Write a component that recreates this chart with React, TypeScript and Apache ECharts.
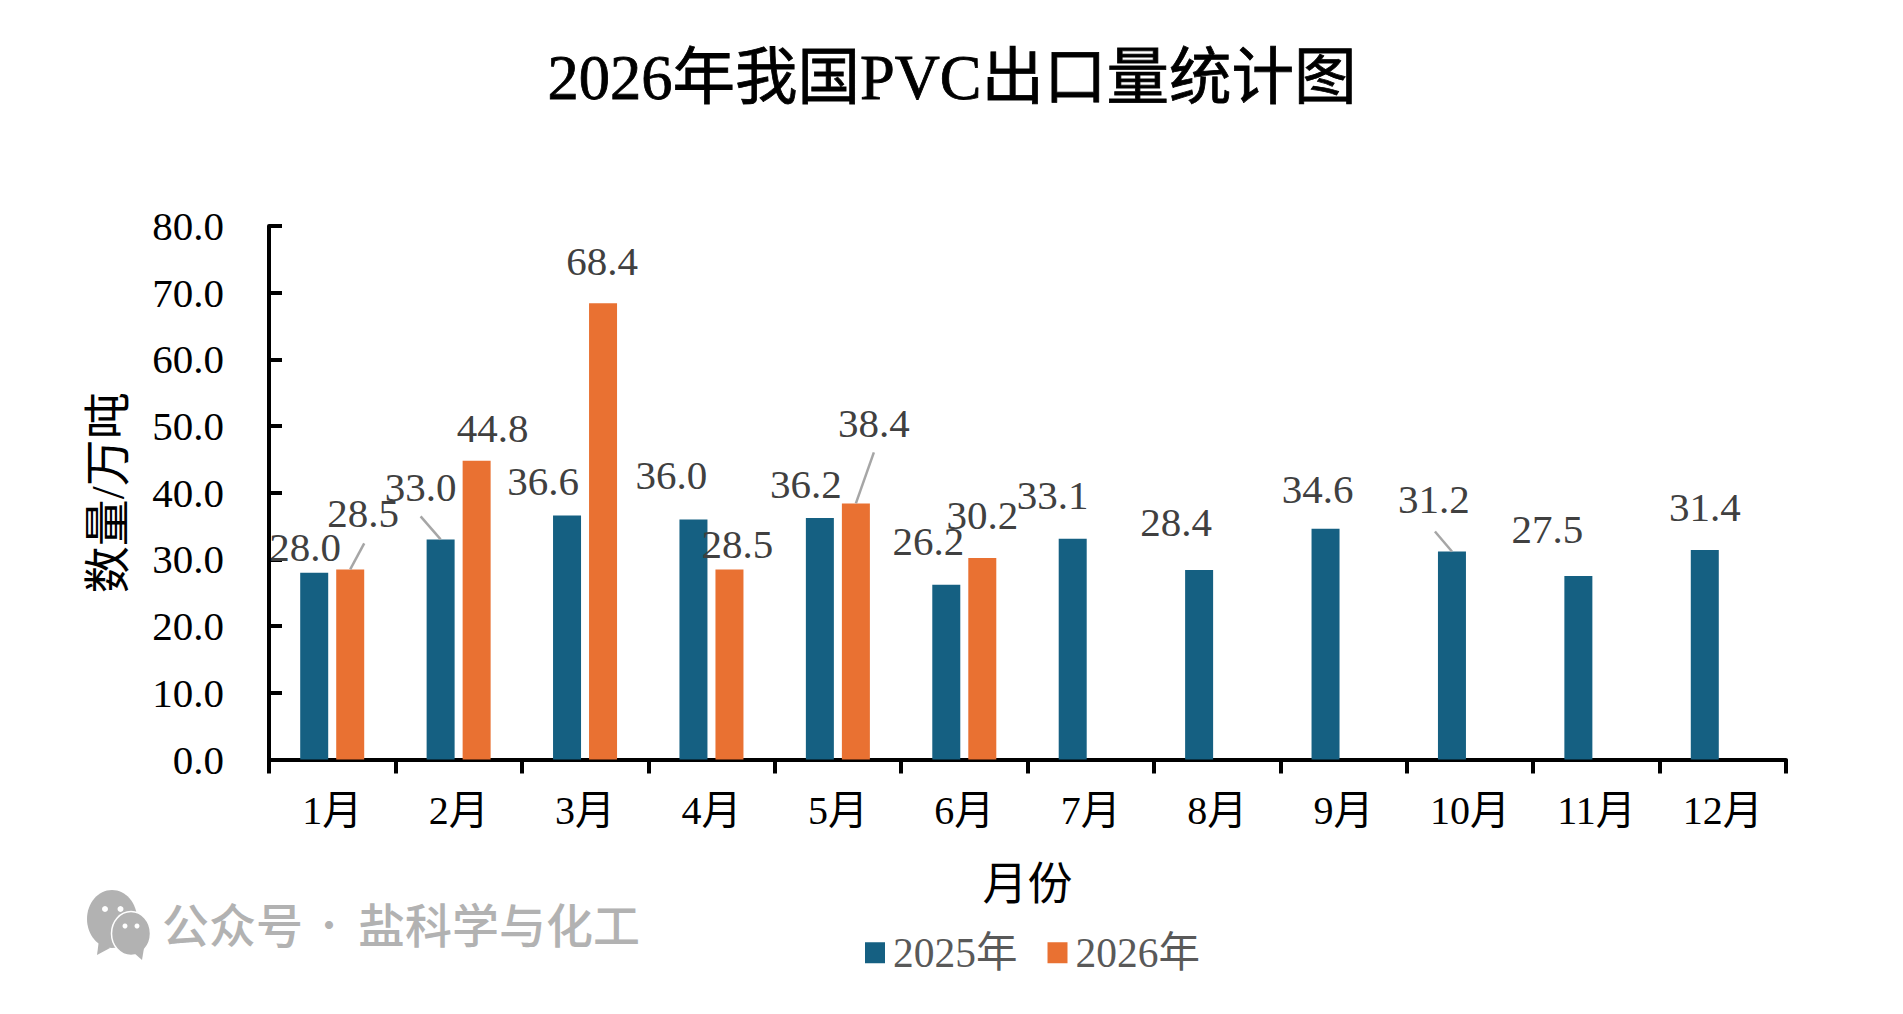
import React, { useEffect, useRef } from "react";
import * as echarts from "echarts";

const months = ["1月", "2月", "3月", "4月", "5月", "6月", "7月", "8月", "9月", "10月", "11月", "12月"];
const values2025 = [28.0, 33.0, 36.6, 36.0, 36.2, 26.2, 33.1, 28.4, 34.6, 31.2, 27.5, 31.4];
const values2026 = [28.5, 44.8, 68.4, 28.5, 38.4, 30.2, null, null, null, null, null, null];
const nudge2025 = [[-9, 0], [-20, -27], [-24, -9], [-22, -19], [-14, -9], [-18, -18], [-20, -18], [-23, -23], [-8, -14], [-18, -27], [-31, -22], [0, -18]];
const nudge2026 = [[13, -31], [16, -7], [-1, -17], [8, 0], [18, -55], [0, -18]];
// leader lines: month index, side of the pair (-1 = 2025, 1 = 2026), then the far end relative to the bar top
const leaderMonths = [0, 1, 4, 9];
const leaderSides = [1, -1, 1, -1];
const leaderEnds = [[14, -26], [-20, -23], [18, -51], [-17, -20]];

const SERIF = '"Liberation Serif","Noto Sans CJK SC",serif';
const CJK = '"Noto Sans CJK SC",sans-serif';
const BLUE = "#156082";
const ORANGE = "#E97132";
const MARK = "#B2B2B2";
const BAR_OFFSET = 18;

function makeSeries(name: string, values: (number | null)[], color: string, nudge: number[][]) {
  return {
    name,
    type: "bar",
    barWidth: 28,
    barGap: "28.6%",
    itemStyle: { color },
    data: values,
    label: {
      show: true,
      position: "top",
      distance: 5,
      fontFamily: SERIF,
      fontSize: 41,
      color: "#404040",
      formatter: (p: any) => (p.value == null ? "" : Number(p.value).toFixed(1)),
    },
    labelLayout: (p: any) => {
      const n = nudge[p.dataIndex] || [0, 0];
      return { dx: n[0], dy: n[1] };
    },
  };
}

const leaderRows = leaderMonths.map((m, i) => [
  m,
  leaderSides[i] < 0 ? values2025[m] : values2026[m],
  leaderSides[i],
  leaderEnds[i][0],
  leaderEnds[i][1],
]);

export default function App() {
  const ref = useRef<HTMLDivElement>(null);
  useEffect(() => {
    const chart = echarts.init(ref.current!, undefined, { renderer: "svg" });
    chart.setOption({
      animation: false,
      backgroundColor: "#ffffff",
      title: {
        text: "2026年我国PVC出口量统计图",
        left: 947,
        top: 42,
        textAlign: "center",
        textStyle: {
          fontFamily: SERIF,
          fontSize: 62.5,
          fontWeight: "normal",
          color: "#000",
          textBorderColor: "#000",
          textBorderWidth: 0.8,
        },
      },
      legend: {
        left: 865,
        top: 932,
        padding: 0,
        itemWidth: 20,
        itemHeight: 21,
        itemGap: 30,
        icon: "rect",
        textStyle: { fontFamily: SERIF, fontSize: 41.5, color: "#595959", padding: [0, 0, 0, 3] },
        data: ["2025年", "2026年"],
      },
      grid: { left: 269, top: 226, width: 1517, height: 533.5 },
      xAxis: {
        type: "category",
        data: months,
        name: "月份",
        nameLocation: "middle",
        nameGap: 103,
        nameTextStyle: { fontFamily: SERIF, fontSize: 45, color: "#000" },
        axisLine: { lineStyle: { color: "#000", width: 4 } },
        axisTick: { show: true, length: 14, lineStyle: { color: "#000", width: 4 } },
        axisLabel: { fontFamily: SERIF, fontSize: 40, color: "#000", margin: 31 },
        splitLine: { show: false },
      },
      yAxis: {
        type: "value",
        min: 0,
        max: 80,
        interval: 10,
        name: "数量/万吨",
        nameLocation: "middle",
        nameRotate: 90,
        nameGap: 138,
        nameTextStyle: { fontFamily: SERIF, fontSize: 47, color: "#000" },
        axisLine: { show: true, lineStyle: { color: "#000", width: 4 } },
        axisTick: { show: true, inside: true, length: 13, lineStyle: { color: "#000", width: 4 } },
        axisLabel: { fontFamily: SERIF, fontSize: 41, color: "#000", margin: 45, formatter: (v: number) => v.toFixed(1) },
        splitLine: { show: false },
      },
      series: [
        makeSeries("2025年", values2025, BLUE, nudge2025),
        makeSeries("2026年", values2026, ORANGE, nudge2026),
        {
          name: "leaders",
          type: "custom",
          silent: true,
          data: leaderRows,
          encode: { x: 0, y: 1 },
          z: 3,
          renderItem: (_: any, api: any) => {
            const p = api.coord([api.value(0), api.value(1)]);
            const x = p[0] + api.value(2) * BAR_OFFSET;
            return {
              type: "line",
              shape: { x1: x, y1: p[1], x2: x + api.value(3), y2: p[1] + api.value(4) },
              style: { stroke: "#A6A6A6", lineWidth: 2.5 },
            };
          },
        },
      ],
      graphic: [
        { type: "ellipse", shape: { cx: 112, cy: 919, rx: 25, ry: 29 }, style: { fill: MARK } },
        { type: "polygon", shape: { points: [[99, 940], [110, 948], [97, 955]] }, style: { fill: MARK } },
        { type: "circle", shape: { cx: 105, cy: 909, r: 3 }, style: { fill: "#fff" } },
        { type: "circle", shape: { cx: 120.5, cy: 909, r: 3 }, style: { fill: "#fff" } },
        { type: "ellipse", shape: { cx: 131, cy: 933.5, rx: 19.5, ry: 22 }, style: { fill: MARK, stroke: "#fff", lineWidth: 1.5 } },
        { type: "polygon", shape: { points: [[134, 953], [144, 948], [142, 960]] }, style: { fill: MARK } },
        { type: "circle", shape: { cx: 125, cy: 926, r: 2.5 }, style: { fill: "#fff" } },
        { type: "circle", shape: { cx: 137, cy: 926, r: 2.5 }, style: { fill: "#fff" } },
        { type: "text", x: 162, y: 922, style: { text: "公众号", fontFamily: CJK, fontSize: 47, fontWeight: 500, fill: MARK, verticalAlign: "middle" } },
        { type: "text", x: 329, y: 922, style: { text: "·", fontFamily: CJK, fontSize: 38, fontWeight: 400, fill: MARK, align: "center", verticalAlign: "middle" } },
        { type: "text", x: 358, y: 922, style: { text: "盐科学与化工", fontFamily: CJK, fontSize: 47, fontWeight: 500, fill: MARK, verticalAlign: "middle" } },
      ],
    });
    return () => chart.dispose();
  }, []);
  return <div ref={ref} style={{ position: "absolute", left: 0, top: 0, width: 1903, height: 1014 }} />;
}
